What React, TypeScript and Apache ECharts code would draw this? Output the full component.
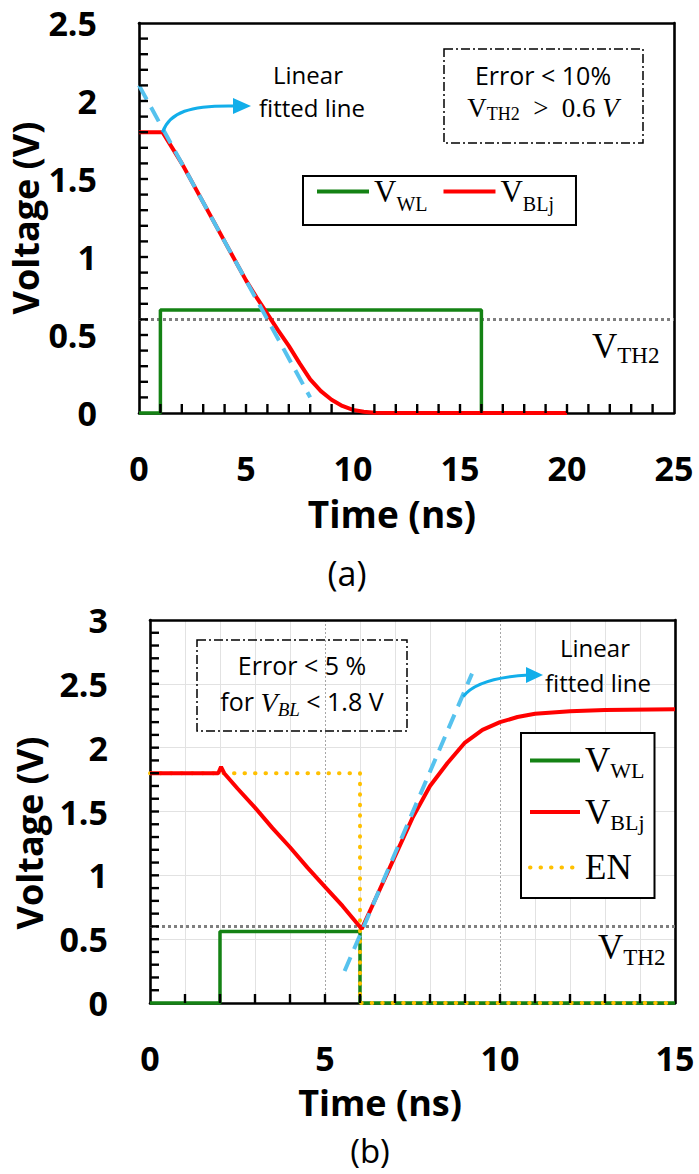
import React, { useEffect, useRef } from "react";
import * as echarts from "echarts";

const SANS = "'Open Sans', 'Noto Sans', sans-serif";
const SERIF = "'Liberation Serif', 'DejaVu Serif', serif";

// ---------- Panel (a) ----------
const aXTicks = [0, 5, 10, 15, 20, 25];
const aYTicks = [0, 0.5, 1, 1.5, 2, 2.5];
const aBLTime = [0, 1.1, 2, 3, 4, 5, 5.5, 6, 6.5, 7, 7.5, 8, 8.5, 9, 9.5, 10, 10.5, 11, 12, 20];
const aBLVolt = [1.8, 1.8, 1.6, 1.35, 1.1, 0.85, 0.74, 0.635, 0.53, 0.43, 0.32, 0.215, 0.14, 0.085, 0.045, 0.02, 0.008, 0.002, 0, 0];
const aWLTime = [0, 1, 1, 16, 16, 20];
const aWLVolt = [0, 0, 0.66, 0.66, 0, 0];
const aFitTime = [0, 8];
const aFitVolt = [2.1, 0.1];
const aVthTime = [0, 25];
const aVthVolt = [0.6, 0.6];
const aArrowFrom = [1.1, 1.8]; // arrow starts at the knee of V_BLj

// ---------- Panel (b) ----------
const bXTicks = [0, 5, 10, 15];
const bYTicks = [0, 0.5, 1, 1.5, 2, 2.5, 3];
const bBLTime = [0, 1.95, 2.03, 2.12, 2.5, 3, 3.5, 4, 4.5, 5, 5.5, 6.05, 6.5, 7, 7.5, 8, 8.5, 9, 9.5, 10, 10.5, 11, 12, 13, 15];
const bBLVolt = [1.8, 1.8, 1.85, 1.8, 1.68, 1.53, 1.37, 1.22, 1.06, 0.91, 0.76, 0.58, 0.85, 1.15, 1.45, 1.7, 1.88, 2.04, 2.14, 2.2, 2.24, 2.265, 2.285, 2.295, 2.3];
const bWLTime = [0, 2, 2, 6, 6, 15];
const bWLVolt = [0, 0, 0.56, 0.56, 0, 0];
const bENTime = [0, 6, 6, 15];
const bENVolt = [1.8, 1.8, 0, 0];
const bFitTime = [5.56, 9.2];
const bFitVolt = [0.25, 2.58];
const bVthTime = [0, 15];
const bVthVolt = [0.6, 0.6];
const bArrowFrom = [8.95, 2.4]; // arrow starts on the fitted line

const MINOR_SPLIT = 5;

const GREEN = "#148214";
const RED = "#ff0000";
const FIT = "#56c2ee";
const ARROW = "#12aeea";
const YELLOW = "#ffc000";
const GRAY = "#7f7f7f";

const pairs = (t: number[], v: number[]) => t.map((x, i) => [x, v[i]]);

// all inner tick positions (major + minor) of an axis
function tickPositions(ticks: number[]) {
  const out: number[] = [];
  const step = (ticks[1] - ticks[0]) / MINOR_SPLIT;
  const n = Math.round((ticks[ticks.length - 1] - ticks[0]) / step);
  for (let i = 1; i < n; i++) out.push(+(ticks[0] + i * step).toFixed(6));
  return out;
}

function lineSeries(name: string, idx: number, t: number[], v: number[], color: string, width: number, type: any, z: number, cap = "butt") {
  return {
    name,
    type: "line",
    xAxisIndex: idx,
    yAxisIndex: idx,
    data: pairs(t, v),
    symbol: "none",
    showSymbol: false,
    silent: true,
    clip: false,
    z,
    lineStyle: { color, width, type, cap },
    itemStyle: { color },
    emphasis: { disabled: true },
  };
}

const LINE = { show: true, onZero: false, lineStyle: { color: "#000", width: 2.6 } };

function xAxis(idx: number, ticks: number[], grid: boolean) {
  return {
    type: "value",
    gridIndex: idx,
    position: "bottom",
    min: ticks[0],
    max: ticks[ticks.length - 1],
    interval: ticks[1] - ticks[0],
    z: 1,
    axisLine: LINE,
    axisTick: { show: false },
    minorTick: { show: false, splitNumber: MINOR_SPLIT },
    axisLabel: { show: true, margin: 42, lineHeight: 26, fontFamily: SANS, fontWeight: "bold", fontSize: 34, color: "#000" },
    splitLine: { show: grid, lineStyle: { color: "#a6a6a6", width: 1, type: [2, 2] } },
    minorSplitLine: { show: grid, lineStyle: { color: "#e2e2e2", width: 1 } },
  };
}

function yAxis(idx: number, ticks: number[], grid: boolean) {
  return {
    type: "value",
    gridIndex: idx,
    position: "left",
    min: ticks[0],
    max: ticks[ticks.length - 1],
    interval: ticks[1] - ticks[0],
    z: 1,
    axisLine: LINE,
    axisTick: { show: false },
    minorTick: { show: false, splitNumber: MINOR_SPLIT },
    axisLabel: { show: true, margin: 42, lineHeight: 26, fontFamily: SANS, fontWeight: "bold", fontSize: 34, color: "#000" },
    splitLine: { show: grid, lineStyle: { color: "#e2e2e2", width: 1 } },
  };
}

// frame-only axes (top and right edges of each plot)
function frameAxis(idx: number, ticks: number[], position: string) {
  return {
    type: "value",
    gridIndex: idx,
    position,
    min: ticks[0],
    max: ticks[ticks.length - 1],
    interval: ticks[1] - ticks[0],
    z: 1,
    axisLine: LINE,
    axisTick: { show: false },
    minorTick: { show: false },
    axisLabel: { show: false },
    splitLine: { show: false },
  };
}

// rich text helpers for subscripts
function subRich(F: number, f: number, off: number, color = "#000", italic = false, vAlign = "top", padBottom = 0) {
  const fs = italic ? "italic" : "normal";
  return {
    v: { fontFamily: SERIF, fontSize: F, lineHeight: F, fontStyle: fs, color, verticalAlign: vAlign, padding: [0, 0, padBottom, 0] },
    s: { fontFamily: SERIF, fontSize: f, lineHeight: f, fontStyle: fs, color, verticalAlign: "top", padding: [Math.max(0, F / 2 + off - f / 2), 0, 0, 0] },
  };
}

const legendNames: Record<string, string> = {
  VWL: "{v|V}{s|WL}",
  VBLj: "{v|V}{s|BLj}",
  EN: "{e|EN}",
};

function textEl(text: string, x: number, y: number, size: number, weight = "normal", extra: any = {}) {
  return {
    type: "text",
    x,
    y,
    z: 10,
    silent: true,
    ...extra,
    style: {
      text,
      fontFamily: SANS,
      fontSize: size,
      fontWeight: weight,
      fill: "#000",
      align: "center",
      verticalAlign: "middle",
    },
  };
}

function baseOption() {
  return {
    animation: false,
    backgroundColor: "#fff",
    grid: [
      { left: 139, top: 23, width: 535, height: 390 },
      { left: 150, top: 620, width: 525, height: 383 },
    ],
    xAxis: [xAxis(0, aXTicks, false), xAxis(1, bXTicks, true), frameAxis(0, aXTicks, "top"), frameAxis(1, bXTicks, "top")],
    yAxis: [yAxis(0, aYTicks, false), yAxis(1, bYTicks, true), frameAxis(0, aYTicks, "right"), frameAxis(1, bYTicks, "right")],
    legend: [
      {
        data: ["VWL", "VBLj"],
        orient: "horizontal",
        left: 303,
        top: 176,
        itemWidth: 52,
        itemHeight: 14,
        itemGap: 14,
        padding: [0, 22, 0, 12],
        borderColor: "#000",
        borderWidth: 2,
        backgroundColor: "#fff",
        selectedMode: false,
        itemStyle: { opacity: 0 },
        lineStyle: { width: 4 },
        formatter: (n: string) => legendNames[n],
        textStyle: { rich: subRich(31, 20, 12, "#000", false, "top", 18) },
      },
      {
        data: ["VWL", "VBLj", "EN"],
        orient: "vertical",
        left: 521,
        top: 733,
        itemWidth: 50,
        itemHeight: 14,
        itemGap: 13,
        padding: [10, 10, 9, 7],
        borderColor: "#000",
        borderWidth: 2,
        backgroundColor: "#fff",
        selectedMode: false,
        itemStyle: { opacity: 0 },
        lineStyle: { width: 4 },
        formatter: (n: string) => legendNames[n],
        textStyle: {
          rich: {
            ...subRich(35, 22, 10, "#000", false, "middle"),
            e: { fontFamily: SERIF, fontSize: 35, lineHeight: 35, padding: [4, 0, 4, 0], verticalAlign: "middle", color: "#000" },
          },
        },
      },
    ],
    series: [
      // panel (a)
      lineSeries("VTH2a", 0, aVthTime, aVthVolt, GRAY, 3, [3, 3], 2),
      lineSeries("VWL", 0, aWLTime, aWLVolt, GREEN, 3.5, "solid", 3),
      lineSeries("VBLj", 0, aBLTime, aBLVolt, RED, 4, "solid", 4),
      lineSeries("Fit a", 0, aFitTime, aFitVolt, FIT, 4, [16, 9], 5),
      // panel (b)
      lineSeries("VTH2b", 1, bVthTime, bVthVolt, GRAY, 3, [3, 3], 2),
      lineSeries("VWL", 1, bWLTime, bWLVolt, GREEN, 3.5, "solid", 3),
      lineSeries("EN", 1, bENTime, bENVolt, YELLOW, 4, [0.5, 10], 4, "round"),
      lineSeries("VBLj", 1, bBLTime, bBLVolt, RED, 4, "solid", 5),
      lineSeries("Fit b", 1, bFitTime, bFitVolt, FIT, 4, [15, 9], 6),
    ],
  };
}

function buildGraphics(chart: any) {
  const px = (g: number, v: number[]) => chart.convertToPixel({ gridIndex: g }, v) as number[];
  const out: any[] = [];

  // inward tick marks (small filled bars), placed through the axes' scales
  const ticks = (g: number, xt: number[], yt: number[]) => {
    const L = 9;
    const W = 2.4;
    tickPositions(xt).forEach((t) => {
      const p = px(g, [t, yt[0]]);
      out.push({ type: "rect", z: 20, silent: true, shape: { x: p[0] - W / 2, y: p[1] - L, width: W, height: L }, style: { fill: "#000" } });
    });
    tickPositions(yt).forEach((v) => {
      const p = px(g, [xt[0], v]);
      out.push({ type: "rect", z: 20, silent: true, shape: { x: p[0], y: p[1] - W / 2, width: L, height: W }, style: { fill: "#000" } });
    });
  };
  ticks(0, aXTicks, aYTicks);
  ticks(1, bXTicks, bYTicks);

  // axis titles and captions
  out.push(
    textEl("Voltage (V)", 25, 218, 36, "bold", { rotation: Math.PI / 2 }),
    textEl("Time (ns)", 392, 513, 37, "bold"),
    textEl("(a)", 347, 573, 34),
    textEl("Voltage (V)", 29, 833, 36, "bold", { rotation: Math.PI / 2 }),
    textEl("Time (ns)", 380, 1102, 36, "bold"),
    textEl("(b)", 370, 1150, 33)
  );

  // panel (a) annotations
  const a0 = px(0, aArrowFrom);
  out.push(
    textEl("Linear", 308, 74, 24),
    textEl("fitted line", 312, 107, 24),
    {
      type: "bezierCurve",
      z: 10,
      silent: true,
      shape: { x1: a0[0], y1: a0[1], cpx1: a0[0] + 7, cpy1: a0[1] - 20, cpx2: a0[0] + 27, cpy2: 105, x2: 236, y2: 106 },
      style: { stroke: ARROW, lineWidth: 3, fill: "none" },
    },
    { type: "polygon", z: 10, silent: true, shape: { points: [[251, 106], [233, 98], [233, 114]] }, style: { fill: ARROW } },
    {
      type: "rect",
      z: 10,
      silent: true,
      shape: { x: 444, y: 49, width: 199, height: 94 },
      style: { fill: "none", stroke: "#000", lineWidth: 1.5, lineDash: [9, 3, 2, 3] },
    },
    textEl("Error < 10%", 543, 75, 25),
    {
      type: "text",
      x: 543,
      y: 94,
      z: 10,
      silent: true,
      style: {
        text: "{v|V}{s|TH2}{t|  >  0.6 }{i|V}",
        align: "center",
        verticalAlign: "top",
        rich: {
          ...subRich(27, 18, 6),
          t: { fontFamily: SERIF, fontSize: 27, lineHeight: 27, verticalAlign: "top", color: "#000" },
          i: { fontFamily: SERIF, fontSize: 27, lineHeight: 27, verticalAlign: "top", fontStyle: "italic", color: "#000" },
        },
      },
    },
    {
      type: "text",
      x: 592,
      y: 329,
      z: 10,
      silent: true,
      style: { text: "{v|V}{s|TH2}", align: "left", verticalAlign: "top", rich: subRich(35, 23, 9, GRAY) },
    }
  );

  // panel (b) annotations
  const b0 = px(1, bArrowFrom);
  out.push(
    textEl("Linear", 595, 647, 24),
    textEl("fitted line", 598, 682, 24),
    {
      type: "bezierCurve",
      z: 10,
      silent: true,
      shape: { x1: b0[0], y1: b0[1], cpx1: b0[0] + 9, cpy1: b0[1] - 12, cpx2: b0[0] + 29, cpy2: 677, x2: 529, y2: 675 },
      style: { stroke: ARROW, lineWidth: 3, fill: "none" },
    },
    { type: "polygon", z: 10, silent: true, shape: { points: [[543, 675], [526, 667], [526, 683]] }, style: { fill: ARROW } },
    {
      type: "rect",
      z: 10,
      silent: true,
      shape: { x: 197, y: 640, width: 210, height: 91 },
      style: { fill: "none", stroke: "#000", lineWidth: 1.5, lineDash: [9, 3, 2, 3] },
    },
    textEl("Error < 5 %", 302, 665, 25),
    {
      type: "text",
      x: 302,
      y: 688,
      z: 10,
      silent: true,
      style: {
        text: "{a|for }{v|V}{s|BL}{a| < 1.8 V}",
        align: "center",
        verticalAlign: "top",
        rich: {
          ...subRich(28, 19, 7, "#000", true),
          a: { fontFamily: SANS, fontSize: 25, lineHeight: 28, verticalAlign: "top", color: "#000" },
        },
      },
    },
    {
      type: "text",
      x: 598,
      y: 930,
      z: 10,
      silent: true,
      style: { text: "{v|V}{s|TH2}", align: "left", verticalAlign: "top", rich: subRich(35, 23, 10, GRAY) },
    }
  );
  return out;
}

export default function App() {
  const ref = useRef<HTMLDivElement>(null);
  useEffect(() => {
    if (!ref.current) return;
    const chart = echarts.init(ref.current, null, { renderer: "svg", width: 699, height: 1174 });
    chart.setOption(baseOption() as any);
    chart.setOption({ graphic: buildGraphics(chart) } as any);
    return () => chart.dispose();
  }, []);
  return (
    <div
      ref={ref}
      style={{ position: "fixed", left: 0, top: 0, width: 699, height: 1174, background: "#fff" }}
    />
  );
}
